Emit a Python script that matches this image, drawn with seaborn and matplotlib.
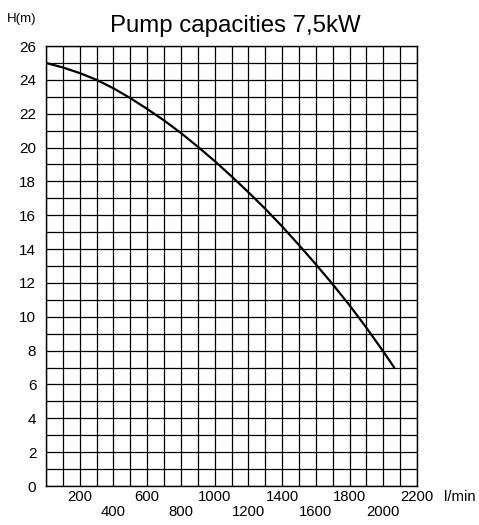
import numpy as np
import pandas as pd
import seaborn as sns
import matplotlib.pyplot as plt

# pump curve: flow (l/min) vs head (m)
FLOW = [0, 100, 200, 300, 400, 500, 600, 700, 800, 900, 1000,
        1100, 1200, 1300, 1400, 1500, 1600, 1700, 1800, 1900, 2000, 2065]
HEAD = [25.0, 24.73, 24.40, 24.0, 23.5, 22.92, 22.28, 21.6, 20.86, 20.05, 19.2,
        18.3, 17.36, 16.38, 15.34, 14.24, 13.1, 11.92, 10.68, 9.35, 7.95, 7.0]

X_TICKS = list(range(0, 2201, 100))
Y_TICKS = list(range(0, 27))

TITLE = "Pump capacities 7,5kW"

sns.set_style("white")
plt.rcParams['font.family'] = ['Liberation Sans', 'DejaVu Sans']
plt.rcParams['text.color'] = 'black'
plt.rcParams['axes.labelcolor'] = 'black'
plt.rcParams['xtick.color'] = 'black'
plt.rcParams['ytick.color'] = 'black'

df = pd.DataFrame({"flow": FLOW, "head": HEAD})

fig = plt.figure(figsize=(4.79, 5.25), dpi=100)
ax = fig.add_axes([46 / 479, 39 / 525, 371 / 479, 440 / 525])

sns.lineplot(data=df, x="flow", y="head", ax=ax, color="black", linewidth=1.6)

ax.set_xlim(0, 2200)
ax.set_ylim(0, 26)

# x labels every 200, every other one dropped to a second row
xlabels = []
for v in X_TICKS:
    if v == 0 or v % 200:
        xlabels.append("")
    elif v % 400 == 0:
        xlabels.append("\n" + str(v))
    else:
        xlabels.append(str(v))
ax.set_xticks(X_TICKS)
ax.set_xticklabels(xlabels, fontsize=10.7, linespacing=1.05)

ylabels = [str(v) if v % 2 == 0 else "" for v in Y_TICKS]
ax.set_yticks(Y_TICKS)
ax.set_yticklabels(ylabels, fontsize=11)

ax.tick_params(axis="x", length=0, pad=3)
ax.tick_params(axis="y", length=0, pad=7)

ax.grid(True, color="black", linewidth=0.9)
for s in ax.spines.values():
    s.set_color("black")
    s.set_linewidth(1.0)

ax.set_title(TITLE, fontsize=17.3, pad=10.3, x=0.509)

ax.set_xlabel("l/min", fontsize=10.7)
ax.xaxis.set_label_coords(1.116, -0.025)
ax.xaxis.label.set_va("center")

ax.set_ylabel("H(m)", fontsize=9.5, rotation=0)
ax.yaxis.set_label_coords(-0.067, 1.061)
ax.yaxis.label.set_va("center")
ax.yaxis.label.set_ha("center")

fig.savefig("out.png", dpi=100)
